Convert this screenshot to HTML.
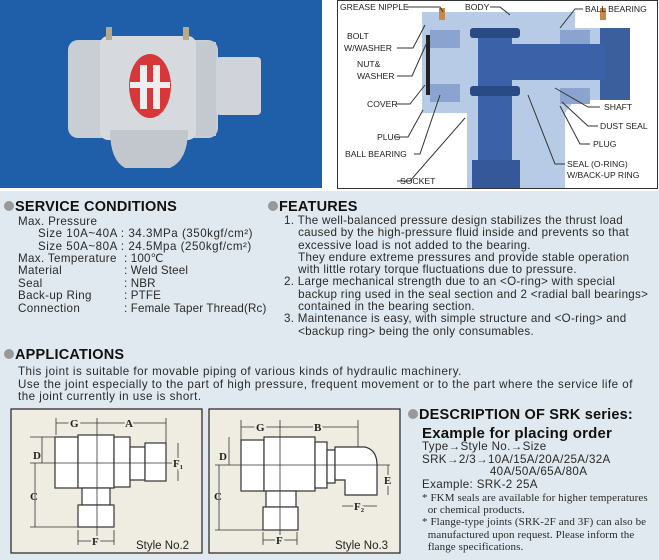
<!DOCTYPE html>
<html><head><meta charset="utf-8"><style>
*{margin:0;padding:0;box-sizing:border-box}
body{width:659px;height:560px;position:relative;background:#fff;font-family:"Liberation Sans",sans-serif;color:#222;overflow:hidden}
.bg{position:absolute;left:0;top:191px;width:659px;height:369px;background:#dfe9ef}
.t{position:absolute;white-space:nowrap;font-size:11.6px;letter-spacing:0.35px;line-height:12.4px;color:#2a2a2a}
.h{position:absolute;white-space:nowrap;font-weight:bold;font-size:14.5px;color:#111;letter-spacing:0.2px}
.b:before{content:"";display:inline-block;width:10px;height:10px;border-radius:50%;background:#999;margin-right:1px;vertical-align:0px}
.lab{font-family:"Liberation Sans",sans-serif;font-size:8.6px;fill:#222}
.dim{font-family:"Liberation Serif",serif;font-size:11px;font-weight:bold;fill:#222}
</style></head><body>
<div class="bg"></div>

<svg style="position:absolute;left:0;top:0" width="330" height="191">
<rect x="0" y="0" width="322" height="188" fill="#1f5ea8"/>
<rect x="68" y="40" width="150" height="98" rx="10" fill="#c9ced4"/>
<rect x="100" y="36" width="96" height="104" rx="8" fill="#d6dadf"/>
<rect x="196" y="42" width="20" height="94" fill="#c4c9cf"/>
<rect x="216" y="57" width="45" height="58" rx="4" fill="#d0d4da"/>
<path d="M110 130 Q110 160 125 168 L170 168 Q188 160 188 130 Z" fill="#c2c7cd"/>
<rect x="106" y="27" width="6" height="13" fill="#b8a98a"/>
<rect x="183" y="27" width="6" height="13" fill="#b8a98a"/>
<ellipse cx="150" cy="86" rx="21" ry="32" fill="#d8373a"/>
<rect x="140" y="65" width="7" height="44" fill="#eee"/><rect x="153" y="65" width="7" height="44" fill="#eee"/>
<rect x="130" y="82" width="40" height="6" fill="#eee"/>
</svg>

<svg style="position:absolute;left:337px;top:0" width="322" height="191">
<rect x="0.5" y="0.5" width="320" height="188" fill="#fff" stroke="#333"/>
<g transform="translate(-337,0)">
<path d="M422 12 L575 12 L575 28 L630 28 L630 100 L575 100 L565 113 L565 188 L467 188 L467 113 L422 113 Z" fill="#b8cbe6"/>
<rect x="600" y="28" width="30" height="72" fill="#3a5f9c"/>
<rect x="480" y="44" width="125" height="36" fill="#3b62a8"/>
<rect x="478" y="30" width="34" height="150" fill="#3b62a8"/>
<rect x="470" y="28" width="50" height="10" rx="3" fill="#2a4a85"/>
<rect x="470" y="86" width="50" height="10" rx="3" fill="#2a4a85"/>
<rect x="472" y="160" width="48" height="28" fill="#34589a"/>
<rect x="430" y="30" width="30" height="18" fill="#8aa4cf"/>
<rect x="430" y="84" width="30" height="18" fill="#8aa4cf"/>
<rect x="560" y="30" width="30" height="14" fill="#8aa4cf"/>
<rect x="560" y="88" width="30" height="16" fill="#8aa4cf"/>
<rect x="426" y="35" width="4" height="60" fill="#222"/>
<rect x="439" y="8" width="6" height="12" fill="#c8884a"/>
<rect x="600" y="8" width="6" height="12" fill="#c8884a"/>
</g>
<g stroke="#333" stroke-width="1" fill="none" transform="translate(-337,0)">
<path d="M406 7 L440 7 L443 12"/><path d="M490 7 L500 7 L510 15"/><path d="M583 9 L575 9 L560 28"/>
<path d="M397 48 L413 48 L425 25"/><path d="M397 76 L412 76 L428 40"/><path d="M396 104 L410 104 L425 85"/>
<path d="M395 137 L408 137 L423 110"/><path d="M414 154 L420 154 L440 95"/><path d="M397 181 L410 181 L465 118"/>
<path d="M600 107 L588 107 L555 88"/><path d="M598 126 L588 126 L562 102"/><path d="M590 144 L580 144 L560 106"/><path d="M565 164 L555 164 L528 95"/>
</g>
<g class="lab" transform="translate(-337,0)">
<text x="340" y="10">GREASE NIPPLE</text><text x="465" y="10">BODY</text><text x="585" y="12">BALL BEARING</text>
<text x="347" y="39">BOLT</text><text x="344" y="51">W/WASHER</text><text x="357" y="67">NUT&amp;</text><text x="357" y="79">WASHER</text>
<text x="367" y="107">COVER</text><text x="377" y="140">PLUG</text><text x="345" y="157">BALL BEARING</text><text x="400" y="184">SOCKET</text>
<text x="604" y="110">SHAFT</text><text x="600" y="129">DUST SEAL</text><text x="593" y="147">PLUG</text>
<text x="567" y="167">SEAL (O-RING)</text><text x="567" y="178">W/BACK-UP RING</text>
</g>
</svg>

<div class="h b" style="left:4px;top:199px">SERVICE CONDITIONS</div>
<div class="t" style="left:18px;top:216px">Max. Pressure</div>
<div class="t" style="left:38px;top:228.4px;letter-spacing:0.5px">Size 10A~40A : 34.3MPa (350kgf/cm²)<br>Size 50A~80A : 24.5Mpa (250kgf/cm²)</div>
<div class="t" style="left:18px;top:253px">Max. Temperature<br>Material<br>Seal<br>Back-up Ring<br>Connection</div>
<div class="t" style="left:124px;top:253px;letter-spacing:0.15px">: 100℃<br>: Weld Steel<br>: NBR<br>: PTFE<br>: Female Taper Thread(Rc)</div>

<div class="h b" style="left:268px;top:199px">FEATURES</div>
<div class="t" style="left:284px;top:215px;line-height:12.3px;letter-spacing:0.3px">1. The well-balanced pressure design stabilizes the thrust load<br>&nbsp;&nbsp;&nbsp;&nbsp;caused by the high-pressure fluid inside and prevents so that<br>&nbsp;&nbsp;&nbsp;&nbsp;excessive load is not added to the bearing.<br>&nbsp;&nbsp;&nbsp;&nbsp;They endure extreme pressures and provide stable operation<br>&nbsp;&nbsp;&nbsp;&nbsp;with little rotary torque fluctuations due to pressure.<br>2. Large mechanical strength due to an &lt;O-ring&gt; with special<br>&nbsp;&nbsp;&nbsp;&nbsp;backup ring used in the seal section and 2 &lt;radial ball bearings&gt;<br>&nbsp;&nbsp;&nbsp;&nbsp;contained in the bearing section.<br>3. Maintenance is easy, with simple structure and &lt;O-ring&gt; and<br>&nbsp;&nbsp;&nbsp;&nbsp;&lt;backup ring&gt; being the only consumables.</div>

<div class="h b" style="left:4px;top:347px">APPLICATIONS</div>
<div class="t" style="left:18px;top:366px;line-height:12.6px;letter-spacing:0.48px">This joint is suitable for movable piping of various kinds of hydraulic machinery.<br>Use the joint especially to the part of high pressure, frequent movement or to the part where the service life of<br>the joint currently in use is short.</div>

<svg style="position:absolute;left:0;top:405px" width="405" height="155">
<g transform="translate(0,-405)" stroke="#333" fill="#fff" stroke-width="1.2">
<rect x="11" y="409" width="191" height="144" fill="#efece2" stroke="#222"/>
<rect x="209" y="409" width="191" height="144" fill="#efece2" stroke="#222"/>
<rect x="55" y="437" width="23" height="51"/><rect x="78" y="435" width="36" height="53"/>
<rect x="114" y="437" width="16" height="50"/><rect x="130" y="447" width="15" height="33"/><rect x="145" y="443" width="21" height="38"/>
<rect x="82" y="488" width="28" height="17"/><rect x="78" y="505" width="36" height="22"/>
<rect x="241" y="440" width="23" height="51"/><rect x="264" y="437" width="51" height="54"/>
<rect x="315" y="442" width="12" height="46"/><rect x="327" y="450" width="8" height="33"/>
<path d="M335 447 L365 447 Q377 450 377 465 L377 495 L345 495 L345 480 L335 480 Z"/>
<rect x="266" y="491" width="30" height="16"/><rect x="263" y="507" width="35" height="23"/>
</g>
<g transform="translate(0,-405)" stroke="#333" stroke-width="0.8" fill="none">
<path d="M97 418 V545 M30 463 H180 M56 423 H166 M56 418 V435 M166 418 V443 M42 437 V463 M35 463 V527 M30 527 H78 M30 437 H55 M178 443 V481 M78 541 H114 M78 530 V545 M114 530 V545"/>
<path d="M280 420 V545 M215 465 H390 M241 427 H358 M241 420 V440 M358 420 V447 M229 437 V465 M219 465 V530 M215 530 H263 M388 465 V495 M342 506 H377 M263 540 H297 M263 532 V545 M297 532 V545"/>
</g>
<g class="dim" transform="translate(0,-405)">
<text x="70" y="427" style="paint-order:stroke" stroke="#efece2" stroke-width="4">G</text>
<text x="125" y="427" stroke="#efece2" stroke-width="4" style="paint-order:stroke">A</text>
<text x="33" y="459">D</text><text x="30" y="500">C</text>
<text x="173" y="467" stroke="#efece2" stroke-width="4" style="paint-order:stroke">F₁</text>
<text x="92" y="545" stroke="#efece2" stroke-width="4" style="paint-order:stroke">F</text>
<text x="256" y="431" stroke="#efece2" stroke-width="4" style="paint-order:stroke">G</text>
<text x="314" y="431" stroke="#efece2" stroke-width="4" style="paint-order:stroke">B</text>
<text x="219" y="460">D</text><text x="214" y="500">C</text>
<text x="384" y="484" stroke="#efece2" stroke-width="4" style="paint-order:stroke">E</text>
<text x="354" y="510" stroke="#efece2" stroke-width="4" style="paint-order:stroke">F₂</text>
<text x="276" y="544" stroke="#efece2" stroke-width="4" style="paint-order:stroke">F</text>
</g>
<text x="136" y="144" font-family="Liberation Sans,sans-serif" font-size="11.5" fill="#222">Style No.2</text>
<text x="335" y="144" font-family="Liberation Sans,sans-serif" font-size="11.5" fill="#222">Style No.3</text>
</svg>

<div class="h b" style="left:408px;top:407px">DESCRIPTION OF SRK series:</div>
<div class="h" style="left:422px;top:425px;font-size:15px">Example for placing order</div>
<div class="t" style="left:422px;top:441px;line-height:12.6px">Type→Style No.→Size<br>SRK→2/3→10A/15A/20A/25A/32A<br>&nbsp;&nbsp;&nbsp;&nbsp;&nbsp;&nbsp;&nbsp;&nbsp;&nbsp;&nbsp;&nbsp;&nbsp;&nbsp;&nbsp;&nbsp;&nbsp;&nbsp;&nbsp;&nbsp;40A/50A/65A/80A<br>Example: SRK-2 25A</div>
<div class="t" style="left:422px;top:492px;font-family:'Liberation Serif',serif;font-size:11px;letter-spacing:0.1px;line-height:12.2px">* FKM seals are available for higher temperatures<br>&nbsp;&nbsp;or chemical products.<br>* Flange-type joints (SRK-2F and 3F) can also be<br>&nbsp;&nbsp;manufactured upon request. Please inform the<br>&nbsp;&nbsp;flange specifications.</div>
</body></html>
